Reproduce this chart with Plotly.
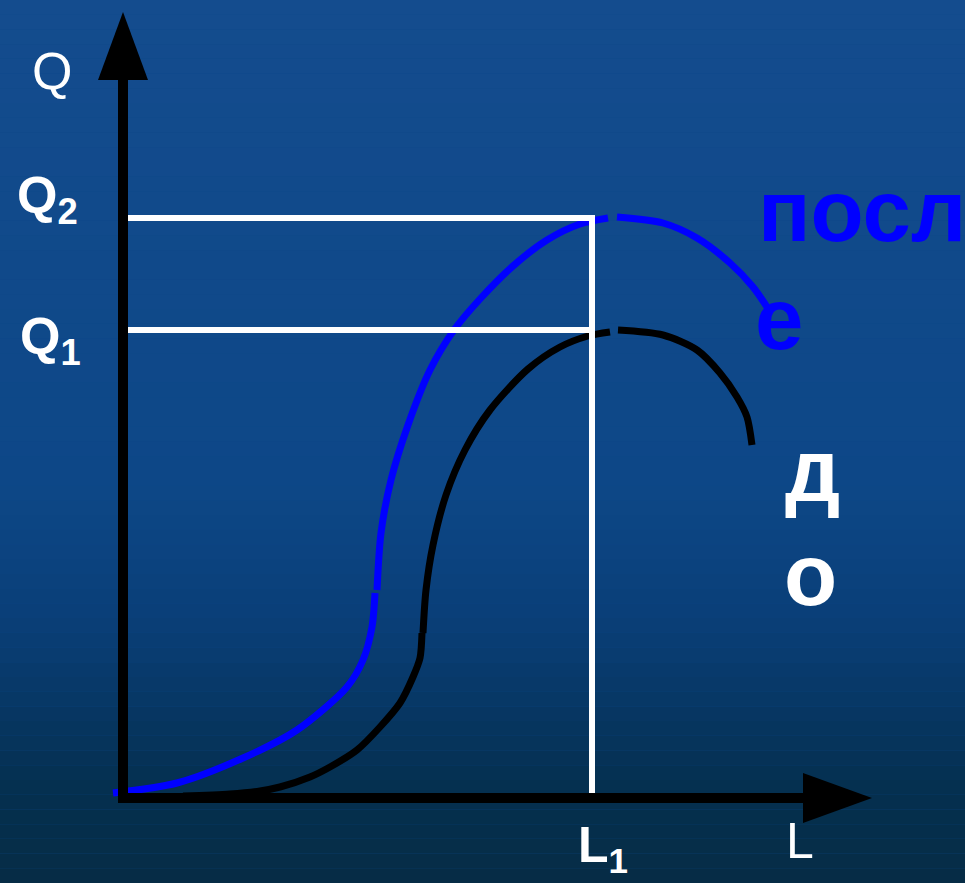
import plotly.graph_objects as go

# ── Data (units: L and Q measured from the origin) ─────────────
# curve "после" (after): three drawn pieces separated by None
AFTER_L = [-10, 54, 120, 174, 224, 240, 249, 252, None,
           254, 258, 268, 285, 307, 331, 357, 390, 424, 457, 485, None,
           494, 540, 574, 607, 630, 644]
AFTER_Q = [5, 15, 40, 68, 111, 138, 171, 205, None,
           208, 265, 318, 373, 428, 468, 499, 532, 558, 574, 580, None,
           581, 575, 560, 535, 511, 491]

# curve "до" (before)
BEFORE_L = [60, 107, 137, 157, 187, 207, 234, 257, 277, 290, 297, 299, None,
            300, 303, 310, 323, 342, 367, 405, 437, 465, 487, None,
            495, 540, 574, 597, 614, 624, 629]
BEFORE_Q = [2, 4, 7, 11, 21, 31, 48, 71, 95, 121, 140, 165, None,
            165, 208, 253, 303, 348, 388, 429, 451, 462, 466, None,
            468, 463, 448, 425, 401, 381, 353]

L1 = 469
Q1 = 468
Q2 = 580
L_MAX = 680   # end of L axis shaft
Q_MAX = 718   # end of Q axis shaft

# ── Style ──────────────────────────────────────────────────────
BLUE = "#0000FF"
WHITE = "#FFFFFF"
BLACK = "#000000"
W, H = 965, 883
X_RANGE = [-123, 842]
Y_RANGE = [-85, 798]

BG_STOPS = [(0.0, (20, 76, 142)), (0.55, (13, 71, 135)), (0.70, (10, 63, 120)),
            (0.80, (7, 55, 100)), (0.89, (5, 48, 80)), (1.0, (6, 44, 69))]


def bg_color(t):
    for (t0, c0), (t1, c1) in zip(BG_STOPS[:-1], BG_STOPS[1:]):
        if t0 <= t <= t1:
            f = (t - t0) / (t1 - t0)
            return "rgb(%d,%d,%d)" % tuple(round(a + (b - a) * f) for a, b in zip(c0, c1))
    return "rgb(%d,%d,%d)" % BG_STOPS[-1][1]


shapes = []
n_bands = 60
for i in range(n_bands):
    shapes.append(dict(type="rect", xref="paper", yref="paper", layer="below",
                       x0=0, x1=1, y0=1 - (i + 1) / n_bands, y1=1 - i / n_bands,
                       fillcolor=bg_color((i + 0.5) / n_bands), line_width=0))

# white guide lines
for q in (Q2, Q1):
    shapes.append(dict(type="line", x0=5, x1=L1, y0=q, y1=q,
                       line=dict(color=WHITE, width=6)))
shapes.append(dict(type="line", x0=L1, x1=L1, y0=0, y1=Q2 + 3,
                   line=dict(color=WHITE, width=6)))

# axes with arrowheads
shapes.append(dict(type="line", x0=0, x1=0, y0=-5, y1=Q_MAX,
                   line=dict(color=BLACK, width=10)))
shapes.append(dict(type="line", x0=-2, x1=L_MAX, y0=0, y1=0,
                   line=dict(color=BLACK, width=10)))
shapes.append(dict(type="path", path=f"M -25 {Q_MAX} L 25 {Q_MAX} L 0 {Q_MAX + 68} Z",
                   fillcolor=BLACK, line_width=0))
shapes.append(dict(type="path", path=f"M {L_MAX} -25 L {L_MAX} 25 L {L_MAX + 69} 0 Z",
                   fillcolor=BLACK, line_width=0))

fig = go.Figure()
fig.add_trace(go.Scatter(x=BEFORE_L, y=BEFORE_Q, mode="lines", connectgaps=False,
                         line=dict(color=BLACK, width=7, shape="spline", smoothing=0.8),
                         hoverinfo="skip"))
fig.add_trace(go.Scatter(x=AFTER_L, y=AFTER_Q, mode="lines", connectgaps=False,
                         line=dict(color=BLUE, width=7, shape="spline", smoothing=0.8),
                         hoverinfo="skip"))

LAB = "Liberation Sans, Arial"
annotations = [
    dict(x=-71, y=727, text="Q", font=dict(size=52)),
    dict(x=-76, y=599, text="<b>Q<sub>2</sub></b>", font=dict(size=52)),
    dict(x=-73, y=458, text="<b>Q<sub>1</sub></b>", font=dict(size=52)),
    dict(x=480, y=-50, text="<b>L<sub>1</sub></b>", font=dict(size=50)),
    dict(x=677, y=-43, text="L", font=dict(size=50)),
    dict(x=633, y=588, text="<b>посл</b>", xanchor="left", font=dict(size=87, color=BLUE)),
    dict(x=656, y=480, text="<b>е</b>", font=dict(size=87, color=BLUE)),
    dict(x=689, y=328, text="<b>д</b>", font=dict(size=87)),
    dict(x=687, y=224, text="<b>о</b>", font=dict(size=87)),
]
for a in annotations:
    a.setdefault("xanchor", "center")
    a["font"].setdefault("color", WHITE)
    a["font"]["family"] = LAB
    a.update(showarrow=False, yanchor="middle")

fig.update_layout(
    width=W, height=H,
    margin=dict(l=0, r=0, t=0, b=0),
    paper_bgcolor="#0d4787", plot_bgcolor="rgba(0,0,0,0)",
    xaxis=dict(range=X_RANGE, visible=False, fixedrange=True),
    yaxis=dict(range=Y_RANGE, visible=False, fixedrange=True),
    showlegend=False,
    shapes=shapes,
    annotations=annotations,
)

fig.write_html("out.html", config={"displayModeBar": False},
               post_script="document.body.style.margin='0';")
